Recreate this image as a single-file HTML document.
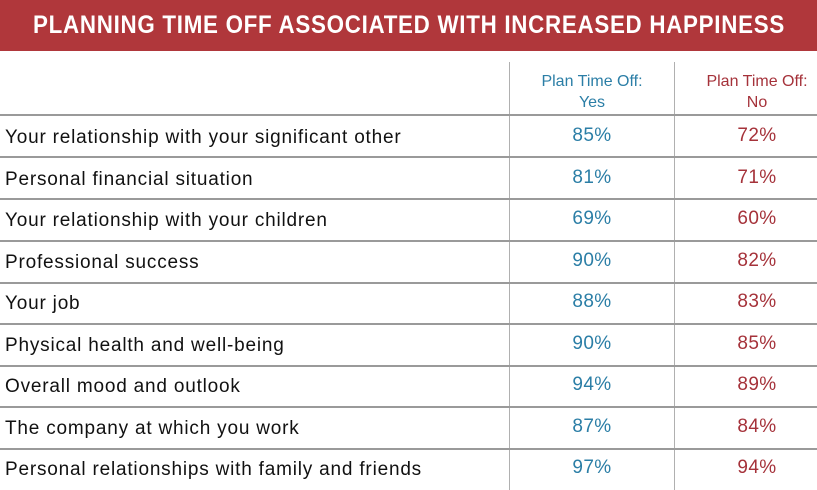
<!DOCTYPE html>
<html><head><meta charset="utf-8"><style>
body{margin:0;width:817px;height:490px;background:#fff;position:relative;overflow:hidden;font-family:"Liberation Sans",sans-serif;}
.band{position:absolute;left:0;top:0;width:817px;height:51px;background:#b0373b;}
.band span{position:absolute;left:409px;top:0;line-height:51px;color:#fff;font-weight:bold;font-size:25px;white-space:nowrap;letter-spacing:0.8px;transform:translateX(-50%) scaleX(0.894);transform-origin:50% 50%;}
.h{position:absolute;left:0;width:817px;height:2px;background:#9a9a9a;}
.v{position:absolute;top:62px;width:1px;height:428px;background:#b0b0b0;}
.lab{position:absolute;left:5px;font-size:19px;color:#111;letter-spacing:0.8px;white-space:nowrap;}
.y,.n{position:absolute;width:164px;text-align:center;font-size:19px;letter-spacing:0.4px;}
.y{left:510px;color:#2b7ea6;}.n{left:675px;color:#a5323a;}
.hd{position:absolute;top:71px;width:164px;text-align:center;font-size:16px;line-height:21px;}
</style></head><body>
<div class="band"><span>PLANNING TIME OFF ASSOCIATED WITH INCREASED HAPPINESS</span></div>
<div class="v" style="left:509px"></div><div class="v" style="left:674px"></div>
<div class="hd" style="left:510px;color:#2b7ea6">Plan Time Off:<br>Yes</div>
<div class="hd" style="left:675px;color:#a5323a">Plan Time Off:<br>No</div>
<div class="h" style="top:114px"></div><div class="h" style="top:156px"></div><div class="h" style="top:198px"></div><div class="h" style="top:240px"></div><div class="h" style="top:282px"></div><div class="h" style="top:323px"></div><div class="h" style="top:365px"></div><div class="h" style="top:406px"></div><div class="h" style="top:448px"></div>
<div class="lab" style="top:127px">Your relationship with your significant other</div><div class="y" style="top:125px">85%</div><div class="n" style="top:125px">72%</div>
<div class="lab" style="top:169px">Personal financial situation</div><div class="y" style="top:167px">81%</div><div class="n" style="top:167px">71%</div>
<div class="lab" style="top:210px">Your relationship with your children</div><div class="y" style="top:208px">69%</div><div class="n" style="top:208px">60%</div>
<div class="lab" style="top:252px">Professional success</div><div class="y" style="top:250px">90%</div><div class="n" style="top:250px">82%</div>
<div class="lab" style="top:293px">Your job</div><div class="y" style="top:291px">88%</div><div class="n" style="top:291px">83%</div>
<div class="lab" style="top:335px">Physical health and well-being</div><div class="y" style="top:333px">90%</div><div class="n" style="top:333px">85%</div>
<div class="lab" style="top:376px">Overall mood and outlook</div><div class="y" style="top:374px">94%</div><div class="n" style="top:374px">89%</div>
<div class="lab" style="top:418px">The company at which you work</div><div class="y" style="top:416px">87%</div><div class="n" style="top:416px">84%</div>
<div class="lab" style="top:459px">Personal relationships with family and friends</div><div class="y" style="top:457px">97%</div><div class="n" style="top:457px">94%</div>
</body></html>
